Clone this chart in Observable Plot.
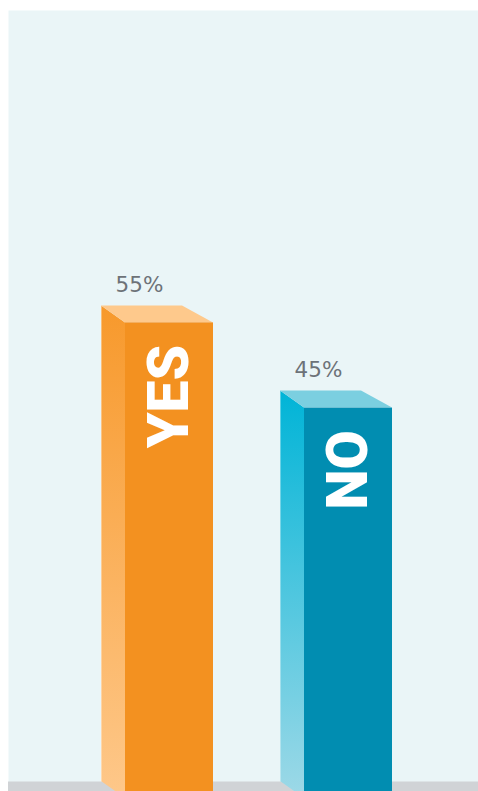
<!DOCTYPE html>
<html>
<head>
<meta charset="utf-8">
<script src="https://cdn.jsdelivr.net/npm/d3@7"></script>
<script src="https://cdn.jsdelivr.net/npm/@observablehq/plot@0.6"></script>
<style>
  html, body { margin: 0; padding: 0; overflow: hidden; background: #ffffff; }
  #chart svg { display: block; overflow: hidden; }
</style>
</head>
<body>
<div id="chart"></div>
<script>
// ---- data ----
const categories = ["YES", "NO"];
const values = [55, 45];
const valueLabels = ["55%", "45%"];

// ---- colours ----
const frontColors = ["#f39120", "#018db1"];
const topColors = ["#fec98c", "#7bcfe0"];
const sideTopColors = ["#f7992c", "#00b4d7"];
const sideBottomColors = ["#fec88a", "#9ed9e7"];

const data = categories.map((c, i) => ({ category: c, value: values[i], label: valueLabels[i], i }));

// 3D depth (pixel offsets, styling only)
const DXL = 24, DXR = 31, DY = 17;

function bars3d(index, scales) {
  const x = scales.x, y = scales.y;
  const bw = x.bandwidth();
  const g = d3.create("svg:g");
  const defs = g.append("defs");
  data.forEach((d, i) => {
    const x0 = x(d.category), x1 = x0 + bw;
    const yt = y(d.value), yb = y(0);
    const gid = "side-grad-" + i;
    const grad = defs.append("linearGradient").attr("id", gid)
      .attr("x1", 0).attr("y1", 0).attr("x2", 0).attr("y2", 1);
    grad.append("stop").attr("offset", "0%").attr("stop-color", sideTopColors[i]);
    grad.append("stop").attr("offset", "100%").attr("stop-color", sideBottomColors[i]);
    // side face
    g.append("polygon")
      .attr("points", [[x0, yt], [x0 - DXL, yt - DY], [x0 - DXL, yb - 10], [x0, yb + 7]].map(p => p.join(",")).join(" "))
      .attr("fill", `url(#${gid})`);
    // faint light edge on the side face
    g.append("line")
      .attr("x1", x0 - DXL + 0.5).attr("x2", x0 - DXL + 0.5)
      .attr("y1", yt - DY).attr("y2", yb - 10)
      .attr("stroke", "#ffffff").attr("stroke-opacity", 0.35).attr("stroke-width", 1);
    // top face
    g.append("polygon")
      .attr("points", [[x0, yt], [x0 - DXL, yt - DY], [x1 - DXR, yt - DY], [x1, yt]].map(p => p.join(",")).join(" "))
      .attr("fill", topColors[i]);
    // front face
    g.append("rect")
      .attr("x", x0).attr("y", yt).attr("width", bw).attr("height", yb - yt + 10)
      .attr("fill", frontColors[i]);
  });
  return g.node();
}

const chart = Plot.plot({
  width: 478,
  height: 791,
  marginLeft: 8,
  marginTop: 10,
  marginRight: 0,
  marginBottom: 0,
  x: { type: "band", domain: categories, range: [124, 392], paddingInner: 0.51, paddingOuter: 0, axis: null },
  y: { domain: [0, 100], range: [791, -61], axis: null },
  style: { background: "#ffffff", overflow: "hidden" },
  marks: [
    Plot.frame({ fill: "#eaf5f7", stroke: null }),
    Plot.ruleY([0], { stroke: "#d0d3d6", strokeWidth: 20 }),
    bars3d,
    Plot.text(data, {
      x: "category", y: "value", text: "label",
      dx: -30, dy: -31, lineAnchor: "bottom", textAnchor: "middle",
      fill: "#6d7278", fontSize: 21.5, fontFamily: "'DejaVu Sans', sans-serif"
    }),
    Plot.text(data, {
      x: "category", y: "value", text: "category",
      dy: 22, rotate: -90, textAnchor: "end", lineAnchor: "middle",
      fill: "#ffffff", fontSize: 57, fontWeight: 900,
      fontFamily: "Roboto, 'Open Sans', sans-serif"
    })
  ]
});

document.getElementById("chart").appendChild(chart);
</script>
</body>
</html>
